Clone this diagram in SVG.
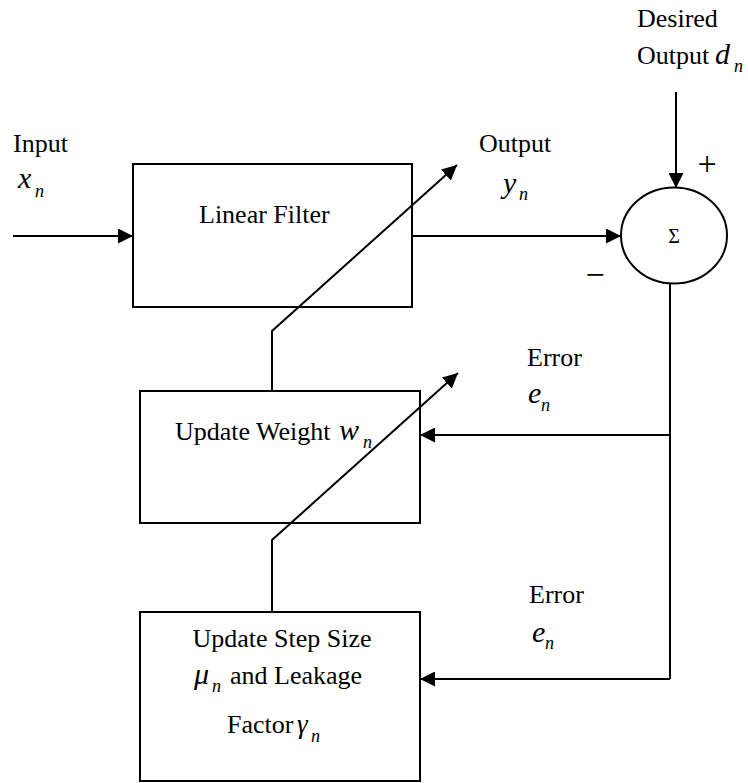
<svg xmlns="http://www.w3.org/2000/svg" width="748" height="783" viewBox="0 0 748 783">
  <style>
    .box { fill: none; stroke: #000; stroke-width: 2; }
    .ln { fill: none; stroke: #000; stroke-width: 2; }
    .t { font-family: "Liberation Serif", "Times New Roman", serif; font-size: 26px; fill: #000; }
    .m { font-family: "Liberation Serif", "Times New Roman", serif; font-style: italic; font-size: 30px; fill: #000; }
    .s { font-family: "Liberation Serif", "Times New Roman", serif; font-style: italic; font-size: 18px; fill: #000; }
    .sig { font-size: 20px; }
    .pm { font-size: 34px; }
    .gm { font-size: 27px; }
  </style>
  <defs>
    <marker id="arrow" markerUnits="userSpaceOnUse" markerWidth="15" markerHeight="15" refX="15" refY="7.5" orient="auto">
      <path d="M0,0 L15,7.5 L0,15 z" fill="#000"/>
    </marker>
  </defs>

  <!-- Linear filter block -->
  <g id="linear-filter">
    <rect class="box" x="133" y="164" width="279" height="143"/>
    <text class="t" x="199" y="223">Linear Filter</text>
  </g>

  <!-- Summing junction -->
  <g id="sum">
    <ellipse class="box" cx="674" cy="235.5" rx="53" ry="48"/>
    <text class="t sig" x="674" y="243" text-anchor="middle">Σ</text>
    <text class="t pm" x="707" y="175" text-anchor="middle">+</text>
    <text class="t pm" x="595" y="286" text-anchor="middle">−</text>
  </g>

  <!-- Weight update block -->
  <g id="update-weight">
    <rect class="box" x="140" y="391" width="280" height="132"/>
    <text class="t" x="175" y="440">Update Weight</text>
    <text class="m" x="339" y="440">w</text>
    <text class="s" x="363" y="448">n</text>
  </g>

  <!-- Step size / leakage update block -->
  <g id="update-step">
    <rect class="box" x="140" y="612" width="280" height="169"/>
    <text class="t" x="282" y="647" text-anchor="middle">Update Step Size</text>
    <text class="m" x="194" y="684">μ</text>
    <text class="s" x="212" y="692">n</text>
    <text class="t" x="230" y="684">and Leakage</text>
    <text class="t" x="227" y="733">Factor</text>
    <text class="m gm" x="297" y="733">γ</text>
    <text class="s" x="311" y="742">n</text>
  </g>

  <!-- Signal labels -->
  <g id="labels">
    <text class="t" x="13" y="152">Input</text>
    <text class="m" x="18" y="188">x</text>
    <text class="s" x="35" y="197">n</text>

    <text class="t" x="479" y="152">Output</text>
    <text class="m" x="503" y="193">y</text>
    <text class="s" x="519" y="200">n</text>

    <text class="t" x="637" y="27">Desired</text>
    <text class="t" x="637" y="64">Output</text>
    <text class="m" x="715" y="64">d</text>
    <text class="s" x="734" y="72">n</text>

    <text class="t" x="527" y="366">Error</text>
    <text class="m" x="528" y="403">e</text>
    <text class="s" x="541" y="411">n</text>

    <text class="t" x="529" y="603">Error</text>
    <text class="m" x="532" y="642">e</text>
    <text class="s" x="545" y="649">n</text>
  </g>

  <!-- Connectors -->
  <g id="connectors">
    <line class="ln" x1="13" y1="236" x2="133" y2="236" marker-end="url(#arrow)"/>
    <line class="ln" x1="412" y1="236" x2="621" y2="236" marker-end="url(#arrow)"/>
    <line class="ln" x1="676" y1="92" x2="676" y2="188" marker-end="url(#arrow)"/>
    <polyline class="ln" points="670,283 670,679"/>
    <line class="ln" x1="670" y1="435" x2="420" y2="435" marker-end="url(#arrow)"/>
    <line class="ln" x1="670" y1="679" x2="420" y2="679" marker-end="url(#arrow)"/>
    <polyline class="ln" points="272,391 272,331 457,165" marker-end="url(#arrow)"/>
    <polyline class="ln" points="272,612 272,540 458,373" marker-end="url(#arrow)"/>
  </g>
</svg>
